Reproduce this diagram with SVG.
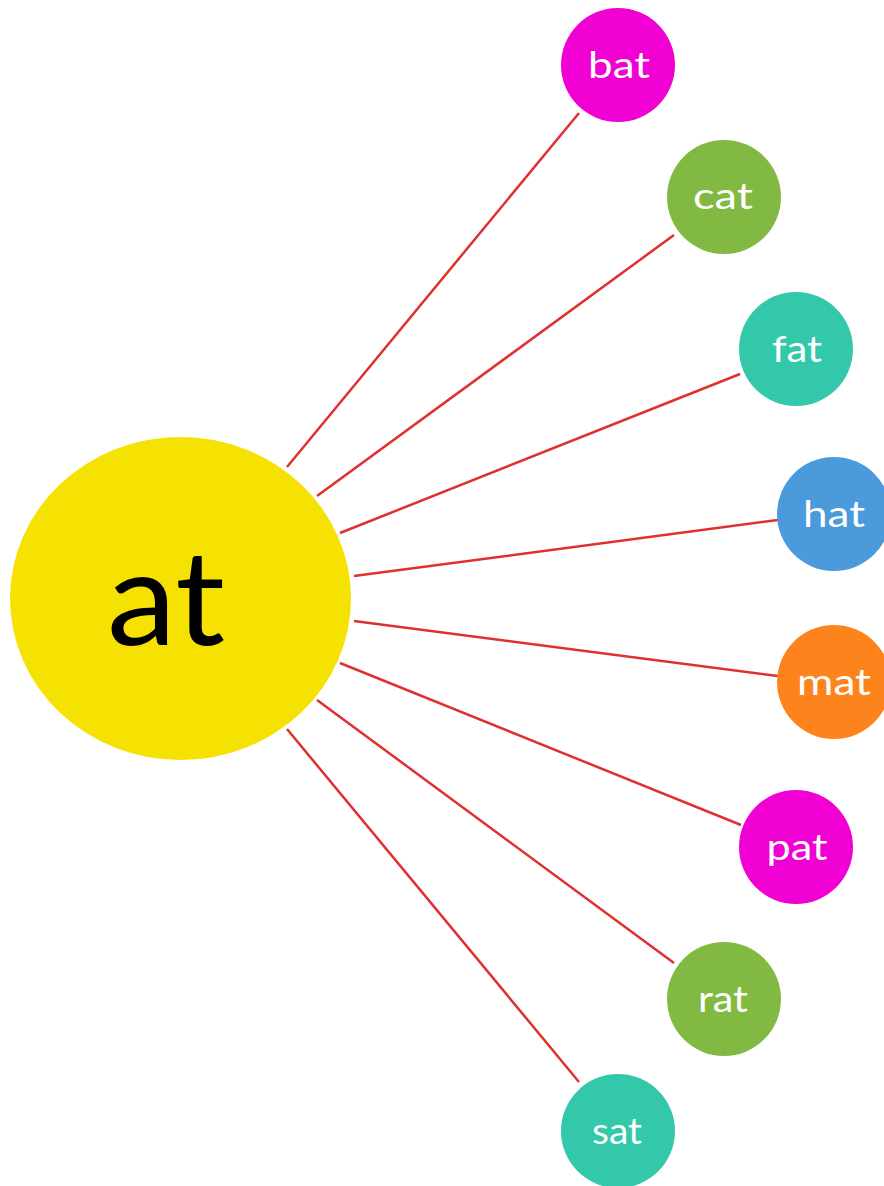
<svg xmlns="http://www.w3.org/2000/svg" width="884" height="1186" viewBox="0 0 884 1186">
<style>
.ln{stroke:#E0302E;stroke-width:2.5;fill:none}
.lbl{font-family:"Lato","Liberation Sans",sans-serif;font-size:37px;fill:#ffffff;text-anchor:middle}
.mag{fill:#F000D2}.grn{fill:#82B942}.tea{fill:#33C8AA}.blu{fill:#4A9ADC}.org{fill:#FD841D}
</style>
<rect width="884" height="1186" fill="#ffffff"/>
<g id="connectors">
<line class="ln" x1="287" y1="467" x2="579" y2="113"/>
<line class="ln" x1="317" y1="496" x2="674" y2="235"/>
<line class="ln" x1="340" y1="533" x2="740" y2="374"/>
<line class="ln" x1="354" y1="576" x2="778" y2="520"/>
<line class="ln" x1="354" y1="621" x2="778" y2="676"/>
<line class="ln" x1="340" y1="663" x2="741" y2="825"/>
<line class="ln" x1="317" y1="700" x2="674" y2="963"/>
<line class="ln" x1="287" y1="729" x2="579" y2="1082"/>
</g>
<g id="at">
<ellipse cx="180.5" cy="598.5" rx="170.5" ry="161.5" fill="#F5E203"/>
<text x="166" y="645" font-family="Lato,'Liberation Sans',sans-serif" font-size="132" fill="#000000" text-anchor="middle" textLength="118" lengthAdjust="spacingAndGlyphs">at</text>
</g>
<g id="bat"><circle class="mag" cx="618" cy="65" r="57"/><text class="lbl" x="619" y="78" textLength="62" lengthAdjust="spacingAndGlyphs">bat</text></g>
<g id="cat"><circle class="grn" cx="724" cy="197" r="57"/><text class="lbl" x="723" y="209" textLength="60" lengthAdjust="spacingAndGlyphs">cat</text></g>
<g id="fat"><circle class="tea" cx="796" cy="349" r="57"/><text class="lbl" x="797" y="362" textLength="50" lengthAdjust="spacingAndGlyphs">fat</text></g>
<g id="hat"><circle class="blu" cx="834" cy="514" r="57"/><text class="lbl" x="834" y="527" textLength="62" lengthAdjust="spacingAndGlyphs">hat</text></g>
<g id="mat"><circle class="org" cx="834" cy="682" r="57"/><text class="lbl" x="834" y="695" textLength="74" lengthAdjust="spacingAndGlyphs">mat</text></g>
<g id="pat"><circle class="mag" cx="796" cy="847" r="57"/><text class="lbl" x="797" y="860" textLength="61" lengthAdjust="spacingAndGlyphs">pat</text></g>
<g id="rat"><circle class="grn" cx="724" cy="999" r="57"/><text class="lbl" x="723" y="1012" textLength="50" lengthAdjust="spacingAndGlyphs">rat</text></g>
<g id="sat"><circle class="tea" cx="618" cy="1131" r="57"/><text class="lbl" x="617" y="1144" textLength="50" lengthAdjust="spacingAndGlyphs">sat</text></g>
</svg>
